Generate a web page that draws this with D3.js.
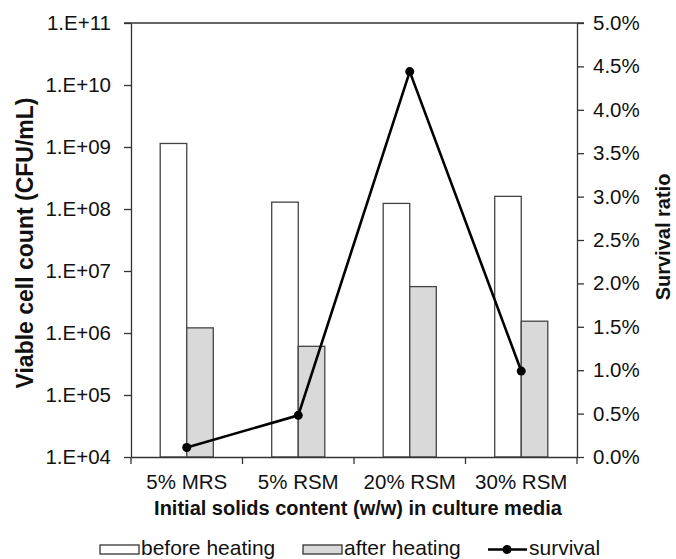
<!DOCTYPE html>
<html>
  <head>
    <meta charset="utf-8" />
    <script src="https://cdn.jsdelivr.net/npm/d3@7"></script>
    <style>
      html,
      body {
        margin: 0;
        padding: 0;
        background: #fff;
        overflow: hidden;
      }
      svg {
        display: block;
        font-family: "Liberation Sans", Arial, sans-serif;
      }
      .tick text {
        font-size: 20.5px;
        fill: #111;
      }
      .title {
        font-size: 20px;
        font-weight: 700;
        fill: #111;
      }
      .legend text {
        font-size: 21px;
        fill: #111;
      }
    </style>
  </head>
  <body>
    <svg width="676" height="559" id="mainsvg"></svg>
    <script>
      // data
      const categories = ["5% MRS", "5% RSM", "20% RSM", "30% RSM"];
      const beforeHeating = [1.14e9, 1.29e8, 1.23e8, 1.6e8];
      const afterHeating = [1.21e6, 6.1e5, 5.6e6, 1.55e6];
      const survival = [0.0011, 0.0048, 0.0444, 0.0099];
      const leftTicks = [1e4, 1e5, 1e6, 1e7, 1e8, 1e9, 1e10, 1e11];
      const rightTicks = [0, 0.005, 0.01, 0.015, 0.02, 0.025, 0.03, 0.035, 0.04, 0.045, 0.05];

      const svg = d3.select("svg");
      const margin = { top: 23, right: 99, bottom: 102, left: 131 };
      const innerWidth = 676 - margin.left - margin.right;
      const innerHeight = 559 - margin.top - margin.bottom;
      const g = svg
        .append("g")
        .attr("transform", `translate(${margin.left}, ${margin.top})`);

      const xScale = d3.scaleBand().domain(categories).range([0, innerWidth]);
      const xSub = d3
        .scaleBand()
        .domain(["before", "after"])
        .range([0, xScale.bandwidth()])
        .paddingInner(0)
        .paddingOuter(1.1);
      const yScale = d3.scaleLog().domain([1e4, 1e11]).range([innerHeight, 0]);
      const y2Scale = d3.scaleLinear().domain([0, 0.05]).range([innerHeight, 0]);

      const rows = categories.map((c, i) => ({
        cat: c,
        before: beforeHeating[i],
        after: afterHeating[i],
        surv: survival[i],
      }));

      // bars
      const groups = g
        .selectAll(".grp")
        .data(rows)
        .join("g")
        .attr("class", "grp")
        .attr("transform", (d) => `translate(${xScale(d.cat)},0)`);
      groups
        .selectAll("rect")
        .data((d) => [
          { k: "before", v: d.before },
          { k: "after", v: d.after },
        ])
        .join("rect")
        .attr("x", (d) => xSub(d.k))
        .attr("width", xSub.bandwidth())
        .attr("y", (d) => yScale(d.v))
        .attr("height", (d) => innerHeight - yScale(d.v))
        .attr("fill", (d) => (d.k === "before" ? "#fff" : "#d9d9d9"))
        .attr("stroke", "#444")
        .attr("stroke-width", 1.3);

      // frame top line
      g.append("line")
        .attr("x1", -7)
        .attr("x2", innerWidth + 7)
        .attr("y1", 0)
        .attr("y2", 0)
        .attr("stroke", "#333")
        .attr("stroke-width", 1.3);

      // axes
      g.append("g").call(
        d3
          .axisLeft(yScale)
          .tickValues(leftTicks)
          .tickFormat((d) => "1.E+" + String(Math.round(Math.log10(d))).padStart(2, "0"))
          .tickSize(7)
          .tickSizeOuter(0)
          .tickPadding(13)
      );
      g.append("g")
        .attr("transform", `translate(${innerWidth},0)`)
        .call(
          d3
            .axisRight(y2Scale)
            .tickValues(rightTicks)
            .tickFormat(d3.format(".1%"))
            .tickSize(7)
            .tickSizeOuter(0)
            .tickPadding(9)
        );
      const xAxis = g
        .append("g")
        .attr("transform", `translate(0,${innerHeight})`)
        .call(d3.axisBottom(xScale).tickSize(0).tickPadding(17).tickSizeOuter(0));
      // category boundary ticks
      const bounds = categories.map((c) => xScale(c)).concat([innerWidth]);
      xAxis
        .selectAll(".bnd")
        .data(bounds)
        .join("line")
        .attr("class", "bnd")
        .attr("x1", (d) => d)
        .attr("x2", (d) => d)
        .attr("y1", 0)
        .attr("y2", 7)
        .attr("stroke", "#333")
        .attr("stroke-width", 1.3);

      svg.selectAll(".domain").attr("stroke", "#333").attr("stroke-width", 1.3);
      svg.selectAll(".tick line").attr("stroke", "#333").attr("stroke-width", 1.3);

      // survival line
      const line = d3
        .line()
        .x((d) => xScale(d.cat) + xScale.bandwidth() / 2)
        .y((d) => y2Scale(d.surv));
      g.append("path")
        .datum(rows)
        .attr("d", line)
        .attr("fill", "none")
        .attr("stroke", "#000")
        .attr("stroke-width", 2.6);
      g.selectAll(".dot")
        .data(rows)
        .join("circle")
        .attr("class", "dot")
        .attr("cx", (d) => xScale(d.cat) + xScale.bandwidth() / 2)
        .attr("cy", (d) => y2Scale(d.surv))
        .attr("r", 4.5)
        .attr("fill", "#000");

      // titles
      svg
        .append("text")
        .attr("class", "title")
        .attr("transform", "translate(33,243) rotate(-90)")
        .attr("text-anchor", "middle")
        .style("font-size", "23px")
        .text("Viable cell count (CFU/mL)");
      svg
        .append("text")
        .attr("class", "title")
        .attr("transform", "translate(670,237) rotate(-90)")
        .attr("text-anchor", "middle")
        .text("Survival ratio");
      svg
        .append("text")
        .attr("class", "title")
        .attr("x", 358)
        .attr("y", 515)
        .attr("text-anchor", "middle")
        .text("Initial solids content (w/w) in culture media");

      // legend
      const lg = svg.append("g").attr("class", "legend");
      lg.append("rect")
        .attr("x", 100).attr("y", 545).attr("width", 39).attr("height", 9)
        .attr("fill", "#fff").attr("stroke", "#333").attr("stroke-width", 1.3);
      lg.append("text").attr("x", 141).attr("y", 555).text("before heating");
      lg.append("rect")
        .attr("x", 303).attr("y", 545).attr("width", 39).attr("height", 9)
        .attr("fill", "#d9d9d9").attr("stroke", "#333").attr("stroke-width", 1.3);
      lg.append("text").attr("x", 344).attr("y", 555).text("after heating");
      lg.append("line")
        .attr("x1", 488).attr("x2", 527).attr("y1", 549.5).attr("y2", 549.5)
        .attr("stroke", "#000").attr("stroke-width", 2.6);
      lg.append("circle").attr("cx", 507).attr("cy", 549.5).attr("r", 4.5).attr("fill", "#000");
      lg.append("text").attr("x", 529).attr("y", 555).text("survival");
    </script>
  </body>
</html>
